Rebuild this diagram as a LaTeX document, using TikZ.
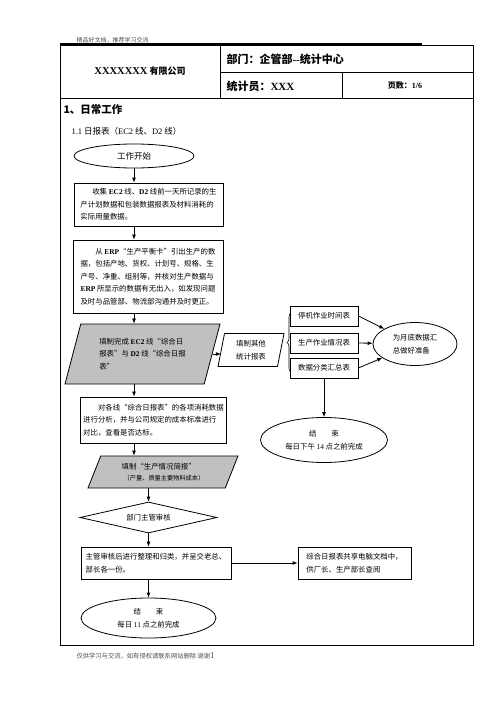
\documentclass[tikz,border=0pt]{standalone}
\usepackage{fontspec}
\setmainfont{Noto Sans CJK SC}
\newfontfamily\lat{Liberation Serif}
\usetikzlibrary{shapes.geometric,arrows.meta,decorations.pathreplacing}
\definecolor{paragray}{RGB}{192,192,192}
\newcommand{\en}[1]{{\lat\bfseries #1}}

\begin{document}
\begin{tikzpicture}[x=1pt,y=-1pt,
  box/.style={draw,line width=0.8pt,align=left,inner xsep=3pt,inner ysep=2pt,font=\fontsize{7.4}{12.5}\selectfont},
  tabbox/.style={draw,line width=0.8pt,minimum width=68pt,minimum height=20pt,inner sep=1pt,font=\fontsize{7.4}{9}\selectfont},
  oval/.style={ellipse,draw,line width=0.8pt,inner sep=1pt,align=center,font=\fontsize{7.4}{12.5}\selectfont},
  parabox/.style={trapezium,trapezium stretches body,draw,line width=0.8pt,align=left,inner sep=1pt,font=\fontsize{7.4}{12.5}\selectfont},
  arr/.style={-{Latex[length=5pt,width=4pt]},line width=0.8pt}]
  \useasboundingbox (0,0) rectangle (496,702);

  \node[anchor=west,font=\fontsize{6}{7}\selectfont,text=black!70] (topnote) at (73,40) {精品好文档，推荐学习交流};
  \draw[line width=1.2pt] (60,44) -- (422,44);
  \draw[line width=0.8pt] (60,45) rectangle (473,645);
  \draw[line width=0.8pt] (220,45) -- (220,98) (220,72) -- (473,72) (342,72) -- (342,98) (60,98) -- (473,98);

  \node[font=\bfseries\fontsize{9}{10}\selectfont] (company) at (140,71) {{\lat\fontsize{10.5}{11}\selectfont XXXXXXX} 有限公司};
  \node[anchor=west,font=\bfseries\fontsize{11}{12}\selectfont] (dept) at (223,59) {部门：企管部{\lat\char45\char45}统计中心};
  \node[anchor=west,font=\bfseries\fontsize{11}{12}\selectfont] (clerk) at (223,86) {统计员：{\lat XXX}};
  \node[font=\bfseries\fontsize{8}{9}\selectfont] (pages) at (405,85) {页数：{\lat 1/6}};
  \node[anchor=west,font=\bfseries\fontsize{10.5}{12}\selectfont] (sec) at (60,110) {1、日常工作};
  \node[anchor=west,font=\fontsize{8.5}{10}\selectfont] (subsec) at (68,131) {{\lat 1.1} 日报表（{\lat EC2} 线、{\lat D2} 线）};

  \node[oval,minimum width=120pt,minimum height=24pt,font=\fontsize{8.5}{10}\selectfont] (start) at (134,156) {工作开始};
  \node[box,minimum width=149pt,minimum height=43pt] (collect) at (148.5,204.5) {\hspace*{1.6em}收集 \en{EC2} 线、\en{D2} 线前一天所记录的生\\产计划数据和包装数据报表及材料消耗的\\实际用量数据。};
  \node[box,minimum width=150pt,minimum height=73pt] (erp) at (148,276.5) {\hspace*{2em}从 \en{ERP}“生产平衡卡”引出生产的数\\据，包括产地、货权、计划号、规格、生\\产号、净重、组别等，并核对生产数据与\\\en{ERP} 所显示的数据有无出入，如发现问题\\及时与品管部、物流部沟通并及时更正。};
  \node[parabox,fill=paragray,trapezium left angle=65,trapezium right angle=115,minimum width=155pt,minimum height=60pt] (fill1) at (142.5,354) {填制完成 \en{EC2} 线“综合日\\报表”与 \en{D2} 线“综合日报\\表”};
  \node[parabox,fill=white,trapezium left angle=73,trapezium right angle=107,minimum width=66pt,minimum height=33pt] (other) at (251,350) {填制其他\\统计报表};

  \node[tabbox] (tab1) at (324,316) {停机作业时间表};
  \node[tabbox] (tab2) at (324,343) {生产作业情况表};
  \node[tabbox] (tab3) at (324,368) {数据分类汇总表};
  \draw[line width=0.6pt,decorate,decoration={brace,amplitude=4pt}] (291,372) -- (291,313);
  \node[oval,align=left,minimum width=84pt,minimum height=43pt] (month) at (415,344) {为月底数据汇\\总做好准备};
  \node[oval,minimum width=127pt,minimum height=45pt] (end1) at (324,440) {结\hspace{2em}束\\每日下午 {\lat 14} 点之前完成};

  \node[box,minimum width=145pt,minimum height=46pt] (analyse) at (153.5,420) {\hspace*{2em}对各线“综合日报表”的各项消耗数据\\进行分析，并与公司规定的成本标准进行\\对比，查看是否达标。};
  \node[parabox,fill=paragray,trapezium left angle=58,trapezium right angle=122,minimum width=150pt,minimum height=32pt] (report) at (163,472) {填制“生产情况简报”\\[-1pt]{\fontsize{6.2}{8}\selectfont\hspace*{2pt}（产量、质量主要物料成本）}};
  \node[diamond,draw,line width=0.8pt,aspect=4.4,inner sep=0pt,minimum width=137pt,minimum height=31pt,font=\fontsize{7.4}{9}\selectfont] (check) at (148.5,517.5) {部门主管审核};
  \node[box,minimum width=150pt,minimum height=32pt] (sort) at (156,563) {主管审核后进行整理和归类，并呈交老总、\\部长各一份。};
  \node[box,minimum width=113pt,minimum height=32pt] (share) at (354.5,563) {综合日报表共享电脑文档中，\\供厂长、生产部长查阅\hspace*{2em}};
  \node[oval,minimum width=135pt,minimum height=40pt] (finish) at (148.5,618) {结\hspace{2em}束\\每日 {\lat 11} 点之前完成};

  \draw[arr] (start.south) -- (start.south |- collect.north);
  \draw[arr] (collect.south -| start.south) -- (erp.north -| start.south);
  \draw[arr] (erp.south -| start.south) -- (fill1.north -| start.south);
  \draw[arr] (fill1.east) -- (fill1.east -| other.west);
  \draw[arr] (fill1.south -| start.south) -- (analyse.north -| start.south);
  \draw[arr] (analyse.south -| start.south) -- (report.north -| start.south);
  \draw[arr] (report.south -| check.north) -- (check.north);
  \draw[arr] (check.south) -- (check.south |- sort.north);
  \draw[arr] (sort.south -| finish.north) -- (finish.north);
  \draw[arr] (sort.east) -- (share.west);
  \draw[arr] (tab1.east) -- (month);
  \draw[arr] (tab2.east) -- (month);
  \draw[arr] (tab3.east) -- (month);
  \draw[arr] (tab3.south) -- (end1.north);

  \node[anchor=west,font=\fontsize{6.3}{7}\selectfont,text=black!70] (footnote) at (73,656) {仅供学习与交流，如有侵权请联系网站删除 谢谢{\lat\fontsize{9}{9}\selectfont 1}};
\end{tikzpicture}
\end{document}
